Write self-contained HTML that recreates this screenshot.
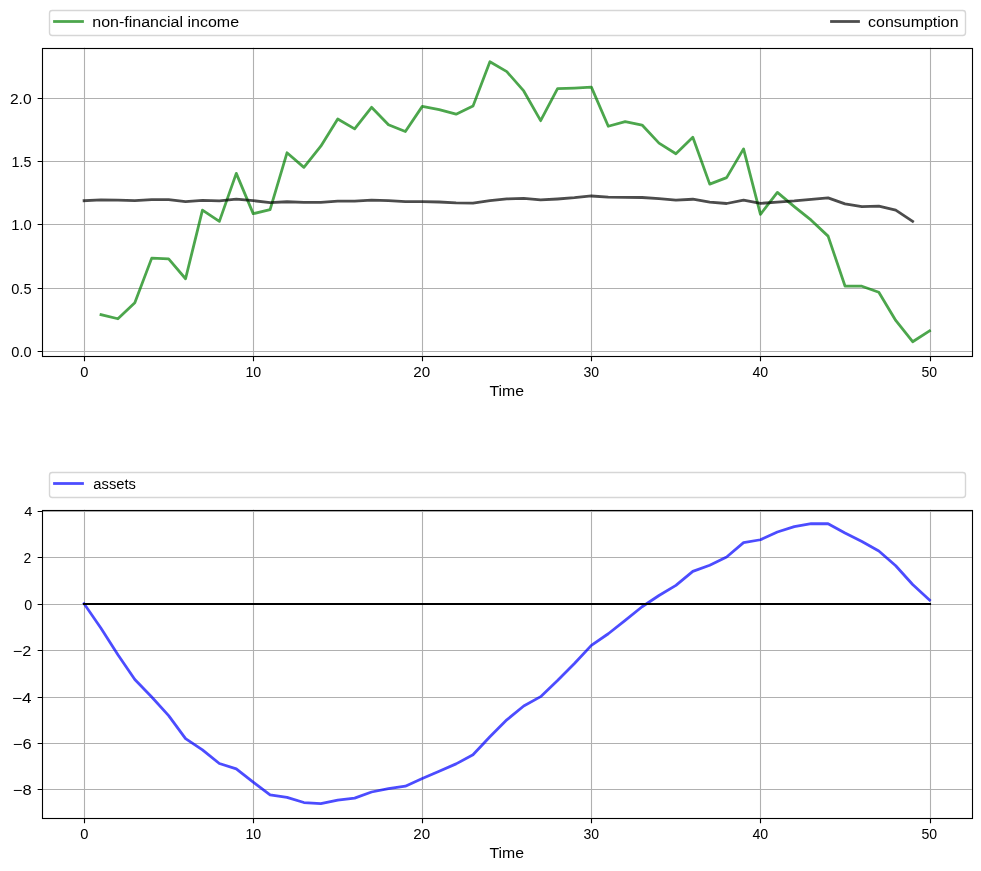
<!DOCTYPE html><html><head><meta charset="utf-8"><title>Permanent income model simulation</title>
<style>html,body{margin:0;padding:0;background:#fff;width:981px;height:871px;overflow:hidden}svg{display:block;will-change:transform}</style></head><body>
<svg width="981" height="871" viewBox="0 0 981 871">
<rect x="0" y="0" width="981" height="871" fill="#fff"/>
<path d="M84.5 47.72V355.72M253.5 47.72V355.72M422.5 47.72V355.72M591.5 47.72V355.72M760.5 47.72V355.72M930.5 47.72V355.72M41.82 351.5H971.82M41.82 288.5H971.82M41.82 224.5H971.82M41.82 161.5H971.82M41.82 98.5H971.82" stroke="#b0b0b0" stroke-width="1.111" fill="none"/>
<polyline points="101.00,314.61 117.91,318.74 134.82,302.81 151.73,258.13 168.64,258.78 185.55,278.77 202.46,210.14 219.37,221.37 236.28,173.40 253.19,213.66 270.09,209.71 287.00,152.78 303.91,167.33 320.82,146.21 337.73,118.98 354.64,128.86 371.55,107.31 388.46,124.78 405.37,131.48 422.28,106.40 439.19,109.67 456.09,114.17 473.00,106.12 489.91,61.72 506.82,71.67 523.73,90.94 540.64,120.67 557.55,88.59 574.46,88.03 591.37,87.14 608.28,126.25 625.19,121.55 642.09,125.06 659.00,143.13 675.91,153.75 692.82,137.31 709.73,184.12 726.64,177.61 743.55,148.86 760.46,214.32 777.37,192.39 794.28,206.57 811.19,220.15 828.09,236.12 845.00,286.04 861.91,286.21 878.82,292.27 895.73,320.46 912.64,341.72 929.55,330.80" fill="none" stroke="#008000" stroke-opacity="0.7" stroke-width="2.778" stroke-linejoin="round" stroke-linecap="square"/>
<polyline points="84.09,200.68 101.00,199.77 117.91,200.14 134.82,200.64 151.73,199.61 168.64,199.55 185.55,201.52 202.46,200.48 219.37,200.82 236.28,199.20 253.19,200.64 270.09,202.55 287.00,201.75 303.91,202.42 320.82,202.33 337.73,201.20 354.64,201.09 371.55,200.10 388.46,200.55 405.37,201.73 422.28,201.63 439.19,201.99 456.09,202.81 473.00,203.22 489.91,200.68 506.82,198.87 523.73,198.40 540.64,199.98 557.55,199.00 574.46,197.73 591.37,195.99 608.28,197.06 625.19,197.39 642.09,197.51 659.00,198.66 675.91,200.14 692.82,199.24 709.73,202.22 726.64,203.50 743.55,200.08 760.46,203.37 777.37,202.08 794.28,200.95 811.19,199.41 828.09,197.85 845.00,203.91 861.91,206.66 878.82,206.08 895.73,210.16 912.64,221.30" fill="none" stroke="#000" stroke-opacity="0.7" stroke-width="2.778" stroke-linejoin="round" stroke-linecap="square"/>
<rect x="42.5" y="48.5" width="930.0" height="308.0" fill="none" stroke="#000" stroke-width="1.111" stroke-linecap="square"/>
<path d="M84.5 356.5v4.861M253.5 356.5v4.861M422.5 356.5v4.861M591.5 356.5v4.861M760.5 356.5v4.861M930.5 356.5v4.861M42.5 351.5h-4.861M42.5 288.5h-4.861M42.5 224.5h-4.861M42.5 161.5h-4.861M42.5 98.5h-4.861" stroke="#000" stroke-width="1.111" fill="none"/>
<rect x="49.5" y="10.5" width="916" height="25" rx="2.78" ry="2.78" fill="#fff" fill-opacity="0.8" stroke="#ccc" stroke-opacity="0.8" stroke-width="1.389"/>
<path d="M54.5 21.5H82.5" stroke="#008000" stroke-opacity="0.7" stroke-width="2.788" stroke-linecap="square"/>
<path d="M831.5 21.5H858.5" stroke="#000" stroke-opacity="0.7" stroke-width="2.788" stroke-linecap="square"/>
<path d="M84.5 509.72V817.72M253.5 509.72V817.72M422.5 509.72V817.72M591.5 509.72V817.72M760.5 509.72V817.72M930.5 509.72V817.72M41.82 511.5H971.82M41.82 557.5H971.82M41.82 604.5H971.82M41.82 650.5H971.82M41.82 697.5H971.82M41.82 743.5H971.82M41.82 789.5H971.82" stroke="#b0b0b0" stroke-width="1.111" fill="none"/>
<polyline points="84.09,603.71 101.00,628.25 117.91,654.79 134.82,679.53 151.73,697.06 168.64,715.62 185.55,738.65 202.46,749.84 219.37,763.50 236.28,768.91 253.19,782.13 270.09,794.87 287.00,797.31 303.91,802.53 320.82,803.72 337.73,800.16 354.64,798.12 371.55,792.01 388.46,788.72 405.37,786.16 422.28,778.60 439.19,771.15 456.09,763.86 473.00,754.69 489.91,736.69 506.82,719.83 523.73,705.95 540.64,696.65 557.55,680.51 574.46,663.54 591.37,645.38 608.28,633.75 625.19,620.39 642.09,606.75 659.00,595.52 675.91,585.32 692.82,571.39 709.73,565.21 726.64,556.98 743.55,542.63 760.46,539.75 777.37,532.01 794.28,526.67 811.19,523.74 828.09,523.72 845.00,533.00 861.91,541.52 878.82,550.92 895.73,565.77 912.64,584.52 929.55,600.01" fill="none" stroke="#0000ff" stroke-opacity="0.7" stroke-width="2.778" stroke-linejoin="round" stroke-linecap="square"/>
<path d="M84.0 604.0H930.0" stroke="#000" stroke-width="2.083" stroke-linecap="square" fill="none"/>
<rect x="42.5" y="510.5" width="930.0" height="308.0" fill="none" stroke="#000" stroke-width="1.111" stroke-linecap="square"/>
<path d="M84.5 818.5v4.861M253.5 818.5v4.861M422.5 818.5v4.861M591.5 818.5v4.861M760.5 818.5v4.861M930.5 818.5v4.861M42.5 511.5h-4.861M42.5 557.5h-4.861M42.5 604.5h-4.861M42.5 650.5h-4.861M42.5 697.5h-4.861M42.5 743.5h-4.861M42.5 789.5h-4.861" stroke="#000" stroke-width="1.111" fill="none"/>
<rect x="49.5" y="472.5" width="916" height="25" rx="2.78" ry="2.78" fill="#fff" fill-opacity="0.8" stroke="#ccc" stroke-opacity="0.8" stroke-width="1.389"/>
<path d="M54.5 483.5H82.5" stroke="#0000ff" stroke-opacity="0.7" stroke-width="2.788" stroke-linecap="square"/>
<g font-family="Liberation Sans" font-size="13.889" fill="#000">
<text transform="matrix(1.1530 0 0 1.1116 92.252 26.582)">non-financial income</text>
<text transform="matrix(1.1509 0 0 1.0468 868.071 26.581)">consumption</text>
<text transform="matrix(1.0604 0 0 1.0859 93.347 488.558)">assets</text>
<text transform="matrix(1.0571 0 0 1.0221 80.261 376.561)">0</text>
<text transform="matrix(1.0233 0 0 1.0716 245.426 376.568)">10</text>
<text transform="matrix(1.0946 0 0 1.0593 413.357 376.600)">20</text>
<text transform="matrix(1.0110 0 0 1.0288 583.518 376.560)">30</text>
<text transform="matrix(1.0229 0 0 0.9943 752.389 376.516)">40</text>
<text transform="matrix(1.0145 0 0 1.0428 921.426 376.684)">50</text>
<text transform="matrix(1.1393 0 0 1.0782 489.396 395.516)">Time</text>
<text transform="matrix(1.1393 0 0 1.0782 489.396 857.516)">Time</text>
<text transform="matrix(1.0529 0 0 1.0153 11.282 356.505)">0.0</text>
<text transform="matrix(1.0527 0 0 1.0538 11.203 293.604)">0.5</text>
<text transform="matrix(1.0693 0 0 1.1086 11.160 229.603)">1.0</text>
<text transform="matrix(1.0327 0 0 1.0783 11.450 166.708)">1.5</text>
<text transform="matrix(1.1242 0 0 1.0566 9.896 103.586)">2.0</text>
<text transform="matrix(1.0544 0 0 0.9732 24.370 515.693)">4</text>
<text transform="matrix(1.0047 0 0 1.1052 23.478 562.675)">2</text>
<text transform="matrix(1.0363 0 0 1.1073 24.353 609.644)">0</text>
<text transform="matrix(1.1698 0 0 1.0293 12.683 655.639)">−2</text>
<text transform="matrix(1.2337 0 0 1.0058 11.917 702.520)">−4</text>
<text transform="matrix(1.1859 0 0 1.0071 12.786 748.725)">−6</text>
<text transform="matrix(1.1882 0 0 1.0140 12.763 794.708)">−8</text>
<text transform="matrix(1.0571 0 0 1.0221 80.261 838.561)">0</text>
<text transform="matrix(1.0233 0 0 1.0716 245.426 838.568)">10</text>
<text transform="matrix(1.0946 0 0 1.0593 413.357 838.600)">20</text>
<text transform="matrix(1.0110 0 0 1.0288 583.518 838.560)">30</text>
<text transform="matrix(1.0229 0 0 0.9943 752.389 838.516)">40</text>
<text transform="matrix(1.0145 0 0 1.0428 921.426 838.684)">50</text>
</g>
</svg></body></html>
